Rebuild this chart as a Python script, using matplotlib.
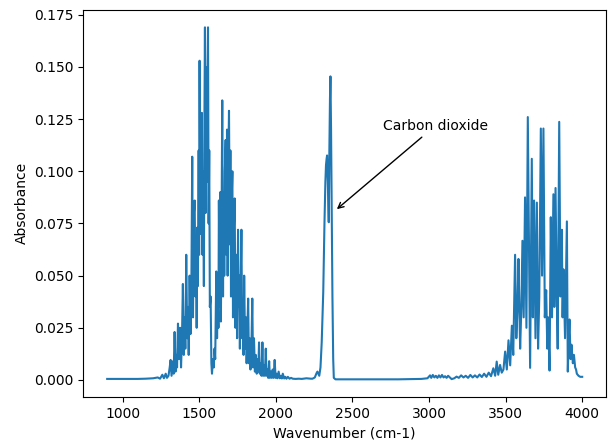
import matplotlib
matplotlib.use("Agg")
import matplotlib.pyplot as plt

# Water band (bending) + baseline, 900-2300 cm-1
wn_low = [900, 1000, 1100, 1150, 1200, 1230, 1245, 1260, 1270, 1282, 1290, 1300, 1308, 1314, 1320,
          1330, 1334, 1340, 1346, 1352, 1356, 1362, 1368, 1376, 1382, 1388, 1394, 1400, 1406, 1410,
          1416, 1422, 1428, 1432, 1438, 1444, 1449, 1455, 1460, 1466, 1471, 1476, 1481, 1484, 1487,
          1492, 1497, 1500, 1503, 1508, 1512, 1515, 1518, 1522, 1527, 1531, 1535, 1538, 1542, 1546,
          1550, 1554, 1558, 1562, 1566, 1570, 1575, 1580, 1584, 1590, 1596, 1600, 1605, 1612, 1617,
          1622, 1626, 1629, 1634, 1638, 1642, 1646, 1651, 1656, 1660, 1664, 1668, 1673, 1678, 1682,
          1686, 1690, 1695, 1700, 1704, 1708, 1712, 1717, 1721, 1726, 1732, 1737, 1742, 1748, 1754,
          1758, 1762, 1766, 1770, 1776, 1781, 1786, 1790, 1794, 1800, 1806, 1810, 1815, 1820, 1825,
          1830, 1835, 1841, 1847, 1852, 1858, 1864, 1870, 1876, 1882, 1886, 1891, 1896, 1902, 1907,
          1913, 1918, 1924, 1929, 1935, 1940, 1946, 1951, 1957, 1962, 1968, 1974, 1980, 1986, 1993,
          1999, 2005, 2011, 2019, 2026, 2033, 2040, 2046, 2055, 2062, 2070, 2079, 2090, 2100, 2111,
          2130, 2150, 2170, 2200, 2230]
ab_low = [0.0005, 0.0005, 0.0005, 0.0006, 0.0008, 0.0012, 0.0006, 0.0025, 0.0008, 0.0030, 0.0010, 0.0020, 0.0060, 0.0096, 0.0020,
          0.0090, 0.0030, 0.0230, 0.0040, 0.0120, 0.0060, 0.0270, 0.0100, 0.0250, 0.0060, 0.0200, 0.0460, 0.0120, 0.0300, 0.0150,
          0.0600, 0.0200, 0.0350, 0.0120, 0.0500, 0.0220, 0.0400, 0.1070, 0.0300, 0.0800, 0.0860, 0.0400, 0.0600, 0.0250, 0.0730,
          0.0450, 0.1100, 0.0600, 0.1530, 0.0700, 0.1270, 0.0900, 0.1280, 0.0600, 0.1000, 0.0450, 0.1300, 0.1690, 0.0800, 0.1500,
          0.0950, 0.1400, 0.1690, 0.0750, 0.1100, 0.0350, 0.0400, 0.0080, 0.0030, 0.0100, 0.0060, 0.0150, 0.0100, 0.0520, 0.0200,
          0.0400, 0.0250, 0.0860, 0.0350, 0.0900, 0.0280, 0.0700, 0.1340, 0.0400, 0.0900, 0.0500, 0.1000, 0.1150, 0.0600, 0.1200,
          0.0500, 0.1000, 0.1290, 0.0650, 0.1100, 0.0400, 0.0850, 0.1000, 0.0300, 0.0700, 0.0870, 0.0250, 0.0600, 0.0200, 0.0720,
          0.0350, 0.0500, 0.0150, 0.0400, 0.0720, 0.0200, 0.0350, 0.0120, 0.0500, 0.0150, 0.0300, 0.0080, 0.0250, 0.0390, 0.0080,
          0.0200, 0.0050, 0.0150, 0.0390, 0.0060, 0.0200, 0.0040, 0.0120, 0.0030, 0.0100, 0.0040, 0.0180, 0.0030, 0.0080, 0.0020,
          0.0180, 0.0020, 0.0070, 0.0020, 0.0150, 0.0020, 0.0050, 0.0010, 0.0090, 0.0010, 0.0040, 0.0010, 0.0050, 0.0010, 0.0096,
          0.0010, 0.0030, 0.0008, 0.0040, 0.0008, 0.0020, 0.0007, 0.0030, 0.0007, 0.0015, 0.0006, 0.0015, 0.0006, 0.0010, 0.0006,
          0.0005, 0.0006, 0.0005, 0.0008, 0.0006]

# CO2 band, 2240-2420 cm-1
wn_co2 = [2240, 2255, 2262, 2266, 2272, 2278, 2284, 2292, 2300, 2310, 2318, 2324, 2328, 2332, 2335, 2340, 2346,
          2350, 2354, 2357, 2361, 2365, 2370, 2375, 2379, 2390, 2420]
ab_co2 = [0.0006, 0.0012, 0.0025, 0.0032, 0.0040, 0.0030, 0.0020, 0.0060, 0.0180, 0.0420, 0.0750, 0.0950, 0.1030, 0.1060, 0.1076, 0.0950, 0.0756,
          0.1100, 0.1350, 0.1455, 0.1200, 0.0850, 0.0400, 0.0100, 0.0010, 0.0003, 0.0003]

# Baseline and water (stretching) band, 2450-4000 cm-1
wn_high = [2450, 2600, 2800, 2900, 2950, 2990, 3007, 3015, 3025, 3035, 3045, 3055, 3065, 3075, 3085, 3095, 3105,
           3115, 3125, 3137, 3148, 3165, 3180, 3195, 3210, 3225, 3240, 3255, 3270, 3285, 3300, 3315, 3330, 3345,
           3360, 3375, 3390, 3405, 3420, 3432, 3442, 3452, 3464, 3475, 3486, 3497, 3508, 3519, 3530, 3541, 3550,
           3562, 3570, 3578, 3584, 3595, 3603, 3610, 3618, 3627, 3636, 3645, 3660, 3671, 3678, 3686, 3695, 3704,
           3712, 3720, 3730, 3738, 3747, 3756, 3765, 3772, 3778, 3787, 3795, 3803, 3812, 3818, 3826, 3834, 3840,
           3850, 3858, 3867, 3872, 3878, 3888, 3900, 3906, 3912, 3917, 3924, 3930, 3939, 3946, 3954, 3960, 3965,
           3976, 3987, 4000]
ab_high = [0.0003, 0.0003, 0.0003, 0.0004, 0.0005, 0.0008, 0.0022, 0.0010, 0.0024, 0.0012, 0.0020, 0.0010, 0.0022, 0.0012, 0.0024, 0.0012, 0.0018,
           0.0010, 0.0020, 0.0012, 0.0004, 0.0008, 0.0016, 0.0010, 0.0022, 0.0012, 0.0020, 0.0010, 0.0024, 0.0012, 0.0022, 0.0012, 0.0026, 0.0014,
           0.0030, 0.0015, 0.0035, 0.0018, 0.0056, 0.0020, 0.0088, 0.0025, 0.0072, 0.0035, 0.0050, 0.0136, 0.0050, 0.0190, 0.0070, 0.0260, 0.0120,
           0.0600, 0.0200, 0.0350, 0.0580, 0.0150, 0.0350, 0.0667, 0.0300, 0.0875, 0.0250, 0.1260, 0.0058, 0.1060, 0.0300, 0.0860, 0.0200, 0.0850,
           0.0150, 0.0400, 0.1205, 0.0500, 0.1205, 0.0300, 0.0430, 0.0150, 0.0300, 0.0045, 0.0780, 0.0300, 0.0890, 0.0350, 0.0920, 0.0400, 0.0150,
           0.1237, 0.0400, 0.0720, 0.0300, 0.0530, 0.0200, 0.0760, 0.0040, 0.0200, 0.0290, 0.0100, 0.0169, 0.0080, 0.0120, 0.0060, 0.0050, 0.0030,
           0.0020, 0.0015, 0.0015]

wavenumber = wn_low + wn_co2 + wn_high
absorbance = ab_low + ab_co2 + ab_high

fig = plt.figure(figsize=(6.09, 4.43), dpi=100)
ax = fig.add_axes([0.137, 0.104, 0.858, 0.874])
ax.plot(wavenumber, absorbance, color="#1f77b4", linewidth=1.5)
ax.set_xlabel("Wavenumber (cm-1)")
ax.set_ylabel("Absorbance")
ax.annotate("Carbon dioxide", xy=(2385, 0.081), xytext=(2700, 0.12),
            arrowprops=dict(arrowstyle="->", color="black"))
fig.savefig("out.png", dpi=100)
